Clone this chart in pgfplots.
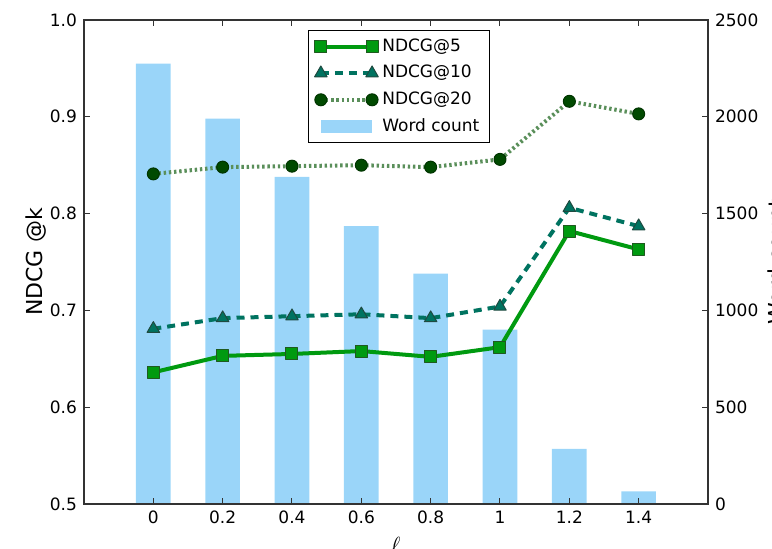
\documentclass[border=0pt]{standalone}
\usepackage{pgfplots}
\pgfplotsset{compat=1.18}
\usepackage{fontspec}
\setmainfont{DejaVu Sans}

\definecolor{barblue}{HTML}{9AD5F9}
\definecolor{gfive}{HTML}{009A10}
\definecolor{gfiveedge}{HTML}{1F5A1F}
\definecolor{gten}{HTML}{007360}
\definecolor{gtenedge}{HTML}{1F4A40}
\definecolor{gtwenty}{HTML}{004A00}
\definecolor{gtwentyline}{HTML}{5A8F5A}

\begin{document}
\begin{tikzpicture}
\pgfplotsset{
  every axis/.append style={
    width=312pt, height=242pt, scale only axis,
    xmin=-1, xmax=8,
    font=\fontsize{8.5}{10}\selectfont,
    /pgf/number format/assume math mode=true,
    /pgf/number format/1000 sep={},
    tick align=inside,
    major tick length=3pt,
    tick style={black!80, line width=0.5pt},
    axis line style={black!80, line width=0.9pt},
    every axis plot/.append style={line join=round},
  },
}
% word count bars on the right axis
\begin{axis}[
    ybar, bar width=0.5,
    ymin=0, ymax=2500,
    axis y line*=right,
    axis x line=none,
    ytick={0,500,1000,1500,2000,2500},
    ylabel={Word count},
    ylabel shift=-2pt,
    ylabel style={font=\fontsize{11}{13}\selectfont},
]
\addplot[fill=barblue, draw=none] coordinates {
    (0, 2275) (1, 1990) (2, 1690) (3, 1435)
    (4, 1190) (5, 900) (6, 285) (7, 65)
};
\end{axis}
% NDCG lines on the left axis
\begin{axis}[
    ymin=0.5, ymax=1.0,
    ytick pos=left, xtick pos=both,
    xtick={0,1,2,3,4,5,6,7},
    xticklabels={0,0.2,0.4,0.6,0.8,1,1.2,1.4},
    ytick={0.5,0.6,0.7,0.8,0.9,1.0},
    yticklabel style={/pgf/number format/fixed,
        /pgf/number format/precision=1,
        /pgf/number format/fixed zerofill},
    xlabel={$\ell$},
    ylabel={NDCG @k},
    ylabel shift=-5pt,
    ylabel style={font=\fontsize{11}{13}\selectfont},
    xlabel style={font=\fontsize{11}{13}\selectfont},
    legend style={at={(0.359,0.979)}, anchor=north west,
        draw=black, line width=0.6pt, fill=white,
        font=\fontsize{8.5}{10}\selectfont,
        row sep=1.5pt, inner xsep=3pt, inner ysep=2pt},
    legend cell align=left,
    legend image code/.code={
        \draw[mark repeat=2, mark phase=1] plot coordinates {
            (0cm,0cm) (0.45cm,0cm) (0.9cm,0cm)};
    },
]
\coordinate (bl) at (rel axis cs:0,0);
\coordinate (tr) at (rel axis cs:1,1);
\addplot[gfive, line width=2pt, mark=square*, mark size=3pt,
    mark options={fill=gfive, draw=gfiveedge, line width=0.5pt, solid}]
    coordinates {
    (0, 0.636) (1, 0.653) (2, 0.655) (3, 0.658)
    (4, 0.652) (5, 0.662) (6, 0.782) (7, 0.763)
};
\addplot[gten, line width=2pt, dash pattern=on 4pt off 3pt,
    mark=triangle*, mark size=3.6pt,
    mark options={fill=gten, draw=gtenedge, line width=0.5pt, solid}]
    coordinates {
    (0, 0.681) (1, 0.692) (2, 0.694) (3, 0.696)
    (4, 0.692) (5, 0.704) (6, 0.806) (7, 0.787)
};
\addplot[gtwentyline, line width=2pt, dash pattern=on 1.2pt off 1.4pt,
    mark=*, mark size=3pt,
    mark options={fill=gtwenty, draw=gtwenty!70!black, line width=0.5pt, solid}]
    coordinates {
    (0, 0.841) (1, 0.848) (2, 0.849) (3, 0.850)
    (4, 0.848) (5, 0.856) (6, 0.916) (7, 0.903)
};
\addlegendentry{NDCG@5}
\addlegendentry{NDCG@10}
\addlegendentry{NDCG@20}
\addlegendimage{area legend, fill=barblue, draw=none,
    legend image code/.code={\fill[barblue] (0cm,-0.12cm) rectangle (0.9cm,0.12cm);}}
\addlegendentry{Word count}
\end{axis}
\pgfresetboundingbox
\path ([xshift=-42pt, yshift=-22.5pt]bl) rectangle ([xshift=32pt, yshift=10pt]tr);
\end{tikzpicture}
\end{document}
